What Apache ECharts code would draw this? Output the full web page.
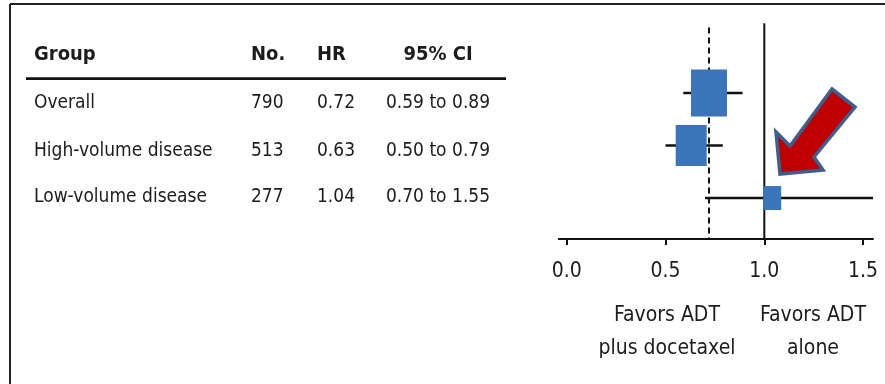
<!DOCTYPE html>
<html>
<head>
<meta charset="utf-8">
<script src="https://cdn.jsdelivr.net/npm/echarts@6/dist/echarts.min.js"></script>
<style>
html,body{margin:0;padding:0;background:#fff;}
#chart{width:885px;height:384px;}
</style>
</head>
<body>
<div id="chart"></div>
<script>
// ---- data ----
const headers = ['Group', 'No.', 'HR', '95% CI'];
const groups = ['Overall', 'High-volume disease', 'Low-volume disease'];
const counts = [790, 513, 277];
const hrs = [0.72, 0.63, 1.04];
const ciLow = [0.59, 0.50, 0.70];
const ciHigh = [0.89, 0.79, 1.55];
const xTicks = [0.0, 0.5, 1.0, 1.5];
const nullLine = 1.0;
const favorLabels = ['Favors ADT\nplus docetaxel', 'Favors ADT\nalone'];

// ---- styles / layout (not data) ----
const FONT = "'Liberation Sans Narrow', 'DejaVu Sans Condensed', 'Arial Narrow', sans-serif";
const TXT = '#1c1c1c';
const BLUE = '#3a74b9';
const boxSizes = [[36, 47], [31, 41], [18, 24]];
const rowY = [103, 151, 197];
const colX = [34, 251, 317, 438];
const colAlign = ['left', 'left', 'left', 'center'];

const chart = echarts.init(document.getElementById('chart'), null, {renderer: 'canvas'});

const seriesData = hrs.map((h, i) => [h, i + 1, ciLow[i], ciHigh[i], i]);

const graphics = [];
// frame
graphics.push({type: 'line', shape: {x1: 10, y1: 4, x2: 885, y2: 4}, style: {stroke: '#222', lineWidth: 2}});
graphics.push({type: 'line', shape: {x1: 10, y1: 4, x2: 10, y2: 384}, style: {stroke: '#222', lineWidth: 2}});
// table header
headers.forEach((h, j) => {
  graphics.push({type: 'text', style: {text: h, x: colX[j], y: 55, align: colAlign[j], verticalAlign: 'middle',
    font: 'bold 20px ' + FONT, fill: TXT}});
});
graphics.push({type: 'line', shape: {x1: 26, y1: 78.7, x2: 506, y2: 78.7}, style: {stroke: '#111', lineWidth: 2.7}});
// table rows
groups.forEach((g, i) => {
  const cells = [g, String(counts[i]), hrs[i].toFixed(2), ciLow[i].toFixed(2) + ' to ' + ciHigh[i].toFixed(2)];
  cells.forEach((c, j) => {
    graphics.push({type: 'text', style: {text: c, x: colX[j], y: rowY[i], align: colAlign[j], verticalAlign: 'middle',
      font: '19px ' + FONT, fill: TXT}});
  });
});
// favors labels
graphics.push({type: 'text', style: {text: favorLabels[0], x: 667, y: 332, align: 'center', verticalAlign: 'middle',
  font: '21px ' + FONT, fill: TXT, lineHeight: 33}});
graphics.push({type: 'text', style: {text: favorLabels[1], x: 813, y: 332, align: 'center', verticalAlign: 'middle',
  font: '21px ' + FONT, fill: TXT, lineHeight: 33}});
// annotation arrow
graphics.push({type: 'polygon', z: 10, shape: {points: [[832, 89], [855, 107], [814, 157], [823, 170], [780, 174], [776, 132], [790, 146]]},
  style: {fill: '#c00000', stroke: '#3c5f8e', lineWidth: 3.5, lineJoin: 'miter'}});

const option = {
  animation: false,
  backgroundColor: '#fff',
  grid: {left: 558.8, top: 23.2, width: 314.2, height: 215.8, containLabel: false},
  xAxis: {
    type: 'value', min: -0.04, max: 1.55, position: 'bottom',
    splitLine: {show: false},
    axisLine: {show: true, onZero: false, lineStyle: {color: '#111', width: 2}},
    axisTick: {show: true, customValues: xTicks, length: 6, lineStyle: {color: '#111', width: 2}},
    axisLabel: {show: true, customValues: xTicks, formatter: v => v.toFixed(1), margin: 22,
      fontSize: 21, fontFamily: FONT, color: TXT}
  },
  yAxis: {
    type: 'value', inverse: true, min: -0.33, max: 3.78, show: false,
    splitLine: {show: false}
  },
  series: [
    {
      type: 'line', data: [[nullLine, -0.33], [nullLine, 3.78]], symbol: 'none', silent: true,
      lineStyle: {color: '#111', width: 2}, z: 1
    },
    {
      type: 'line', data: [[hrs[0], -0.25], [hrs[0], 3.78]], symbol: 'none', silent: true,
      lineStyle: {color: '#111', width: 2, type: [6, 4]}, z: 1
    },
    {
      type: 'custom', z: 3, clip: false,
      data: seriesData,
      renderItem: function (params, api) {
        const i = api.value(4);
        const c = api.coord([api.value(0), api.value(1)]);
        const lo = api.coord([api.value(2), api.value(1)]);
        const hi = api.coord([api.value(3), api.value(1)]);
        const s = boxSizes[i];
        return {
          type: 'group',
          children: [
            {type: 'line', shape: {x1: lo[0], y1: lo[1], x2: hi[0], y2: hi[1]}, style: {stroke: '#111', lineWidth: 2.5}},
            {type: 'rect', shape: {x: c[0] - s[0] / 2, y: c[1] - s[1] / 2, width: s[0], height: s[1]}, style: {fill: BLUE}}
          ]
        };
      }
    }
  ],
  graphic: graphics
};
chart.setOption(option);
</script>
</body>
</html>
